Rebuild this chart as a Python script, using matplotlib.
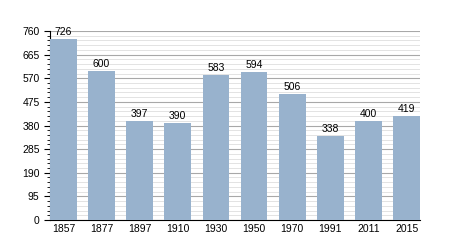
import matplotlib.pyplot as plt
import numpy as np

years = ["1857", "1877", "1897", "1910", "1930", "1950", "1970", "1991", "2011", "2015"]
population = [726, 600, 397, 390, 583, 594, 506, 338, 400, 419]
yticks = [0, 95, 190, 285, 380, 475, 570, 665, 760]

plt.rcParams["font.family"] = ["Liberation Sans", "DejaVu Sans"]

fig = plt.figure(figsize=(4.5, 2.5), dpi=100)
ax = fig.add_axes([50/450, 30/250, 370/450, 189/250])

x = np.arange(len(years))
ax.bar(x, population, width=0.7, color="#98b2cd", zorder=3)
for xi, v in zip(x, population):
    ax.text(xi, v + 8, str(v), ha="center", va="bottom", fontsize=7.5, zorder=4)

ax.set_xlim(-0.35, len(years) - 0.65)
ax.set_ylim(0, 760)
ax.set_yticks(yticks)
ax.set_yticks(np.arange(0, 761, 19), minor=True)
ax.set_xticks(x)
ax.set_xticklabels(years)
ax.tick_params(axis="x", length=0, labelsize=7.5, pad=3)
ax.tick_params(axis="y", which="major", length=4, labelsize=7.5, width=0.8)
ax.tick_params(axis="y", which="minor", length=2, width=0.6)
ax.grid(axis="y", which="major", color="#a8a8a8", linewidth=0.8, zorder=0)
ax.grid(axis="y", which="minor", color="#dedede", linewidth=0.6, zorder=0)
for s in ["top", "right"]:
    ax.spines[s].set_visible(False)
ax.spines["left"].set_linewidth(0.8)
ax.spines["bottom"].set_linewidth(0.8)

fig.savefig("out.png", dpi=100)
